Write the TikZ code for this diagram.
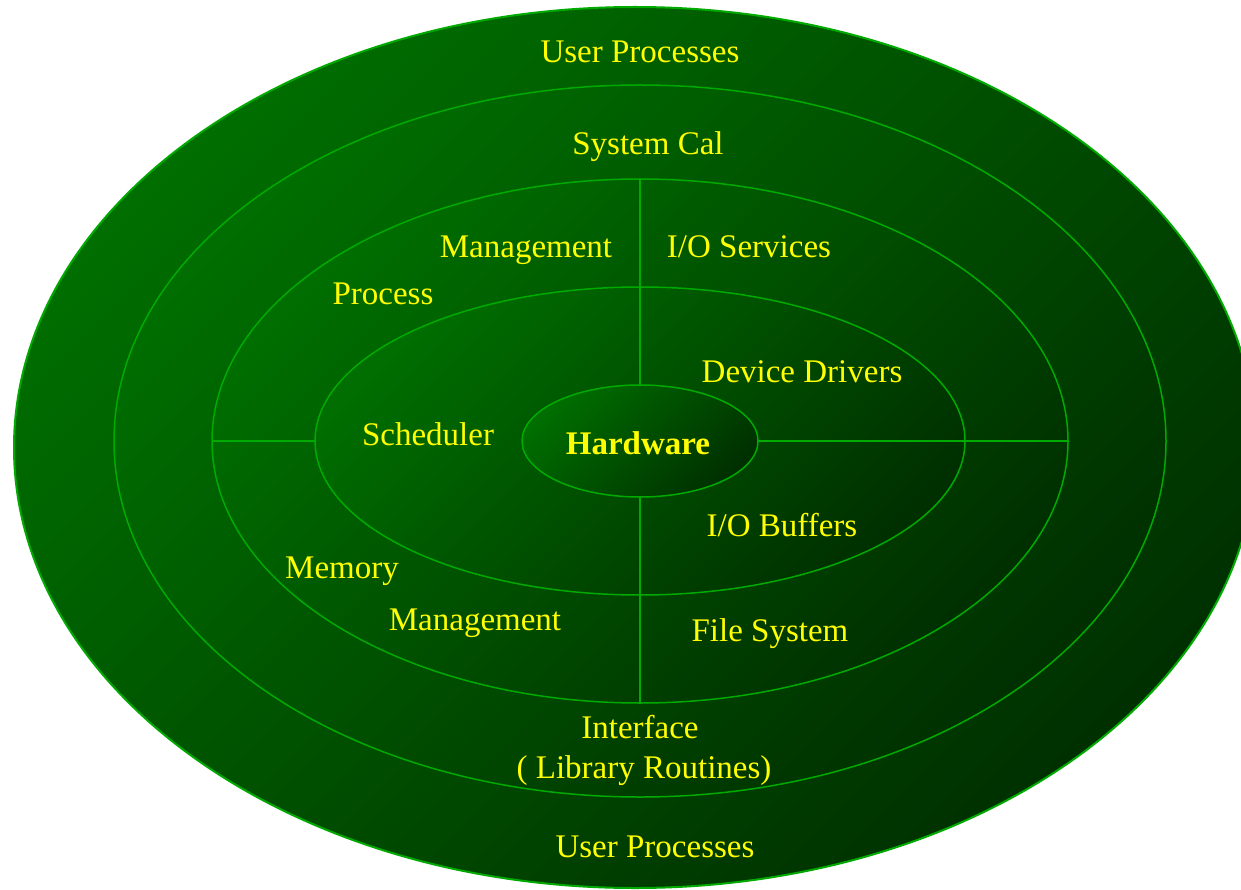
\documentclass[tikz,border=0pt]{standalone}
\usepackage{fontspec}
\setmainfont{Liberation Serif}
\usetikzlibrary{shapes.geometric}
\definecolor{ringline}{RGB}{0,170,0}
\definecolor{fieldlight}{RGB}{0,110,0}
\definecolor{fielddark}{RGB}{0,48,0}
\definecolor{labelyellow}{RGB}{255,255,0}
\begin{document}
\begin{tikzpicture}[x=1pt,y=-1pt,
  ring/.style={ellipse, draw=ringline, line width=1.5pt, inner sep=0pt, outer sep=0pt,
    left color=fieldlight, right color=fielddark, shading angle=45},
  divider/.style={draw=ringline, line width=1.5pt},
  lbl/.style={text=labelyellow, font=\fontsize{33}{36}\selectfont, anchor=base, inner sep=0pt},
  boldlbl/.style={lbl, font=\fontsize{33}{36}\selectfont\bfseries}]
\useasboundingbox (0,0) rectangle (1241,890);

% concentric layers, outermost first
\node[ring, line width=2pt, minimum width=1242pt, minimum height=881pt] (outer) at (635,447.5) {};
\node[ring, minimum width=1052pt, minimum height=712pt] (syscall) at (640,441) {};
\node[ring, minimum width=856pt, minimum height=524pt] (kernel) at (640,441) {};
\node[ring, minimum width=650pt, minimum height=308pt] (core) at (640,441) {};
\node[ring, minimum width=236pt, minimum height=112pt] (hw) at (640,441) {};

% quadrant dividers
\draw[divider] (kernel.north) -- (hw.north);
\draw[divider] (hw.south) -- (kernel.south);
\draw[divider] (kernel.west) -- (core.west);
\draw[divider] (hw.east) -- (kernel.east);

% labels
\node[lbl] (userTop) at (640,63) {User Processes};
\node[lbl] (sysCall) at (648,155) {System Cal};
\node[lbl] (procMgmt) at (526,258) {Management};
\node[lbl] (ioServ) at (749,258) {I/O Services};
\node[lbl] (proc) at (383,305) {Process};
\node[lbl] (devDrv) at (802,382) {Device Drivers};
\node[lbl] (sched) at (428,445) {Scheduler};
\node[boldlbl] (hwLabel) at (638,454) {Hardware};
\node[lbl] (ioBuf) at (782,536) {I/O Buffers};
\node[lbl] (mem) at (342,578) {Memory};
\node[lbl] (memMgmt) at (475,630) {Management};
\node[lbl] (fileSys) at (770,641) {File System};
\node[lbl] (iface) at (640,738) {Interface};
\node[lbl] (libRout) at (644,778) {( Library Routines)};
\node[lbl] (userBot) at (655,857) {User Processes};
\end{tikzpicture}
\end{document}
